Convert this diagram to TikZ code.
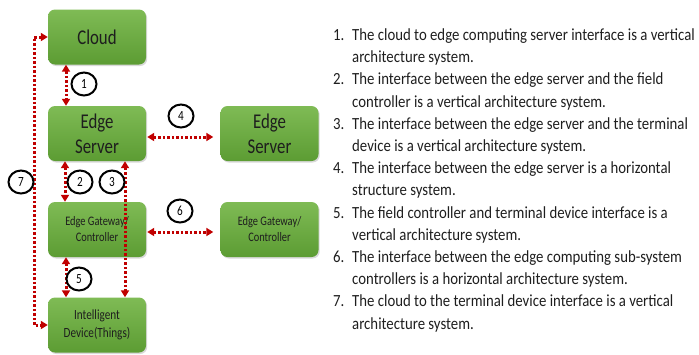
\documentclass[tikz,border=0pt]{standalone}
\usepackage{fontspec}
\setmainfont{Carlito}
\newfontfamily\boxfont[FakeStretch=0.8]{Carlito}
\newfontfamily\listfont[FakeStretch=0.87]{Carlito}
\usetikzlibrary{arrows.meta,shapes.geometric,shadows}
\definecolor{boxtop}{HTML}{7FBB55}
\definecolor{boxbot}{HTML}{5C9C33}
\definecolor{linkred}{HTML}{C00000}
\definecolor{inktext}{HTML}{1E1E1E}
\tikzset{
  unit/.style={rectangle, rounded corners=7pt, minimum width=98pt, minimum height=55pt,
    top color=boxtop, bottom color=boxbot, draw=none, text=inktext, align=center,
    drop shadow={shadow xshift=1.2pt, shadow yshift=-1.5pt, opacity=0.3}},
  bigtxt/.style={font=\boxfont\fontsize{21}{25}\selectfont},
  gwtxt/.style={font=\boxfont\fontsize{13}{16}\selectfont},
  devtxt/.style={font=\boxfont\fontsize{14}{18}\selectfont},
  link/.style={draw=linkred, line width=3pt, dash pattern=on 2.5pt off 2pt,
    {Triangle[width=8pt,length=7pt]}-{Triangle[width=8pt,length=7pt]}},
  tag/.style={ellipse, draw=black, line width=2pt, fill=white, minimum width=25pt,
    minimum height=23pt, inner sep=0pt, font=\boxfont\fontsize{14}{14}\selectfont},
  listline/.style={anchor=base west, inner sep=0pt, text=inktext,
    font=\listfont\fontsize{17}{20}\selectfont},
}
\begin{document}
\begin{tikzpicture}[x=1pt,y=-1pt]
\useasboundingbox (0,0) rectangle (699,354);

% boxes
\node[unit,bigtxt] (cloud) at (97,37) {Cloud};
\node[unit,bigtxt] (es1) at (97,133.5) {Edge\\Server};
\node[unit,bigtxt] (es2) at (269.5,133.5) {Edge\\Server};
\node[unit,gwtxt] (gw1) at (97,229.5) {Edge Gateway/\\Controller};
\node[unit,gwtxt] (gw2) at (269.5,229.5) {Edge Gateway/\\Controller};
\node[unit,devtxt] (dev) at (97,325) {Intelligent\\Device(Things)};

% x positions of the vertical links
\coordinate (x1) at (66,0);
\coordinate (x2) at (65,0);
\coordinate (x3) at (125,0);
\coordinate (x5) at (66,0);
\coordinate (x7) at (34,180);
\coordinate (y4) at (0,137);
\coordinate (y6) at (0,232);

% links
\draw[link] (cloud.south -| x1) -- (es1.north -| x1);
\draw[link] (es1.south -| x2) -- (gw1.north -| x2);
\draw[link] (gw1.south -| x5) -- (dev.north -| x5);
\draw[link] (es1.south -| x3) -- (dev.north -| x3);
\draw[link, shorten <=1pt, shorten >=7pt] (es1.east |- y4) -- (es2.west |- y4);
\draw[link, shorten <=1pt, shorten >=7pt] (gw1.east |- y6) -- (gw2.west |- y6);
\draw[link] (cloud.west) -| (x7) |- (dev.west);

% numbered tags
\node[tag] (t1) at (84,84) {1};
\node[tag] (t2) at (80,182) {2};
\node[tag] (t3) at (112,182) {3};
\node[tag] (t4) at (181,116) {4};
\node[tag] (t5) at (79,279) {5};
\node[tag] (t6) at (180,211) {6};
\node[tag] (t7) at (21,182) {7};

% description list
\node[listline] (n1) at (333,40.5) {1.};
\node[listline] (l1a) at (352,40.5) {The cloud to edge computing server interface is a vertical};
\node[listline] (l1b) at (352,62.7) {architecture system.};
\node[listline] (n2) at (333,84.9) {2.};
\node[listline] (l2a) at (352,84.9) {The interface between the edge server and the field};
\node[listline] (l2b) at (352,107.1) {controller is a vertical architecture system.};
\node[listline] (n3) at (333,129.3) {3.};
\node[listline] (l3a) at (352,129.3) {The interface between the edge server and the terminal};
\node[listline] (l3b) at (352,151.5) {device is a vertical architecture system.};
\node[listline] (n4) at (333,173.7) {4.};
\node[listline] (l4a) at (352,173.7) {The interface between the edge server is a horizontal};
\node[listline] (l4b) at (352,195.9) {structure system.};
\node[listline] (n5) at (333,218.1) {5.};
\node[listline] (l5a) at (352,218.1) {The field controller and terminal device interface is a};
\node[listline] (l5b) at (352,240.3) {vertical architecture system.};
\node[listline] (n6) at (333,262.5) {6.};
\node[listline] (l6a) at (352,262.5) {The interface between the edge computing sub-system};
\node[listline] (l6b) at (352,284.7) {controllers is a horizontal architecture system.};
\node[listline] (n7) at (333,306.9) {7.};
\node[listline] (l7a) at (352,306.9) {The cloud to the terminal device interface is a vertical};
\node[listline] (l7b) at (352,329.1) {architecture system.};
\end{tikzpicture}
\end{document}
